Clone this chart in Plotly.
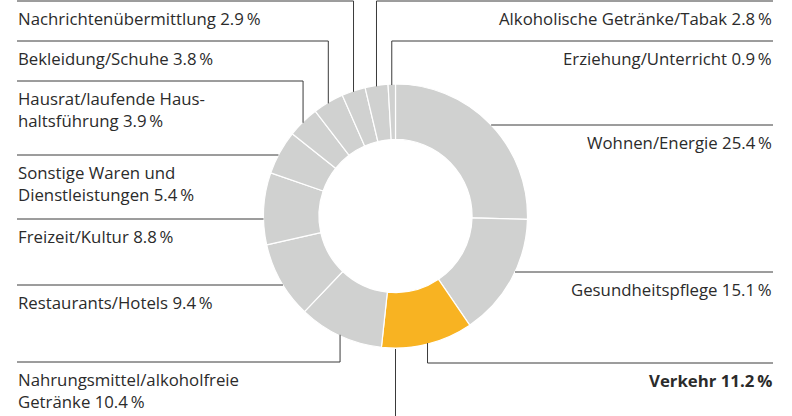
import math
import plotly.graph_objects as go

# ---- data ----
categories = [
    "Wohnen/Energie", "Gesundheitspflege", "Verkehr",
    "Nahrungsmittel/alkoholfreie<br>Getränke", "Restaurants/Hotels",
    "Freizeit/Kultur", "Sonstige Waren und<br>Dienstleistungen",
    "Hausrat/laufende Haus-<br>haltsführung", "Bekleidung/Schuhe",
    "Nachrichtenübermittlung", "Alkoholische Getränke/Tabak",
    "Erziehung/Unterricht",
]
values = [25.4, 15.1, 11.2, 10.4, 9.4, 8.8, 5.4, 3.9, 3.8, 2.9, 2.8, 0.9]
highlight = "Verkehr"

# ---- layout / style ----
W, H = 792, 416
CX, CY, R = 395.5, 216.0, 132.0
HOLE = 0.58
GREY = "#d0d1d0"
ORANGE = "#f8b322"
LINE = "#3a3a3a"
TEXT = "#2b2b2b"
FONT = "Open Sans"
FS = 16.8
LEFT_X, RIGHT_X = 17, 773

# label rule positions: (side, rule_y, connector)
label_layout = [
    ("right", 125, "flat"),
    ("right", 272, "flat"),
    ("right", 363, "elbow"),
    ("left", 362, "elbow"),
    ("left", 285, "flat"),
    ("left", 219, "flat"),
    ("left", 155, "flat"),
    ("left", 81, "elbow"),
    ("left", 41, "elbow"),
    ("left", 1, "elbow"),
    ("right", 1, "elbow"),
    ("right", 41, "elbow"),
]

colors = [ORANGE if c == highlight else GREY for c in categories]

fig = go.Figure()
fig.add_trace(go.Pie(
    labels=categories, values=values, sort=False, direction="clockwise",
    rotation=0, hole=HOLE, textinfo="none", hoverinfo="label+percent",
    marker=dict(colors=colors, line=dict(color="white", width=1.2)),
    domain=dict(x=[(CX - R) / W, (CX + R) / W],
                y=[(H - (CY + R)) / H, (H - (CY - R)) / H]),
    showlegend=False,
))

shapes = []
annotations = []
total = sum(values)
cum = 0.0
for cat, val, (side, ry, conn) in zip(categories, values, label_layout):
    mid = (cum + val / 2) / total * 2 * math.pi
    cum += val
    ax = CX + R * math.sin(mid)
    ay = CY - R * math.cos(mid)
    if conn == "elbow":
        ex = ax
        shapes.append(dict(type="line", x0=ax, x1=ax, y0=ry, y1=ay + (1 if ay < CY else -1),
                           xref="x", yref="y", line=dict(color=LINE, width=1)))
    else:
        dx = math.sqrt(max(R * R - (ry - CY) ** 2, 0))
        ex = CX - dx if side == "left" else CX + dx
    x0, x1 = (LEFT_X, ex) if side == "left" else (ex, RIGHT_X)
    shapes.append(dict(type="line", x0=x0, x1=x1, y0=ry, y1=ry, xref="x", yref="y",
                       line=dict(color=LINE, width=1)))
    label = f"{cat} {val:.1f}\u2009%"
    if cat == highlight:
        label = f"<b>{label}</b>"
    annotations.append(dict(
        x=LEFT_X - 1 if side == "left" else RIGHT_X + 1, y=ry + 3.5,
        xref="x", yref="y", xanchor="left" if side == "left" else "right",
        yanchor="top", align="left" if side == "left" else "right",
        text=label, showarrow=False,
        font=dict(family=FONT, size=FS, color=TEXT),
    ))

# decorative leader continuing below the chart
shapes.append(dict(type="line", x0=CX, x1=CX, y0=CY + R + 1, y1=H, xref="x", yref="y",
                   line=dict(color=LINE, width=1)))

fig.update_layout(
    width=W, height=H, margin=dict(l=0, r=0, t=0, b=0),
    paper_bgcolor="white", plot_bgcolor="rgba(0,0,0,0)",
    xaxis=dict(range=[0, W], visible=False, fixedrange=True),
    yaxis=dict(range=[H, 0], visible=False, fixedrange=True),
    shapes=shapes, annotations=annotations,
)
fig.write_html("out.html", config={"displayModeBar": False},
               post_script="document.body.style.margin='0';")
